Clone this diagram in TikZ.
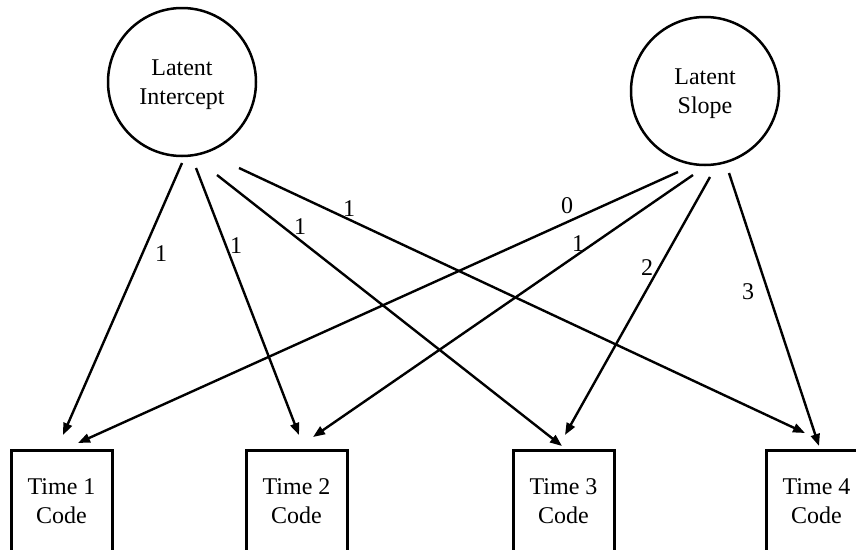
\documentclass[tikz,border=0pt]{standalone}
\usepackage{fontspec}
\setmainfont{Liberation Serif}
\usetikzlibrary{arrows.meta}
\begin{document}
\begin{tikzpicture}[x=1pt,y=-1pt,
  every node/.style={font=\fontsize{24}{28.5}\selectfont},
  latent/.style={draw,circle,line width=2.5pt,minimum size=148pt,inner sep=0pt,align=center,text depth=0pt},
  obsbox/.style={draw,rectangle,line width=3pt,minimum width=101pt,minimum height=102pt,inner sep=0pt,align=center},
  path/.style={line width=2.4pt,-{Triangle[length=12pt,width=9pt]}},
  wlab/.style={inner sep=0pt}]
\useasboundingbox (0,0) rectangle (856,549);
\clip (0,0) rectangle (856,549);
% latent factors
\node[latent] (int) at (182,82) {Latent\\Intercept};
\node[latent] (slo) at (705,91) {Latent\\Slope};
% observed
\node[obsbox] (t1) at (61.5,501) {Time 1\\Code};
\node[obsbox] (t2) at (296.5,501) {Time 2\\Code};
\node[obsbox] (t3) at (563.5,501) {Time 3\\Code};
\node[obsbox] (t4) at (816.5,501) {Time 4\\Code};
% connector ends
\coordinate (s1) at (182,163); \coordinate (e1) at (63,435);
\coordinate (s2) at (196,168); \coordinate (e2) at (299,435);
\coordinate (s3) at (217,175); \coordinate (e3) at (562,446);
\coordinate (s4) at (239,168); \coordinate (e4) at (805,433);
\coordinate (s5) at (678,172); \coordinate (e5) at (78,443);
\coordinate (s6) at (693,175); \coordinate (e6) at (313,437);
\coordinate (s7) at (710,177); \coordinate (e7) at (565,435);
\coordinate (s8) at (729,173); \coordinate (e8) at (819,446);
\draw[path] (s1) -- (e1);
\draw[path] (s2) -- (e2);
\draw[path] (s3) -- (e3);
\draw[path] (s4) -- (e4);
\draw[path] (s5) -- (e5);
\draw[path] (s6) -- (e6);
\draw[path] (s7) -- (e7);
\draw[path] (s8) -- (e8);
% loadings
\node[wlab] (l1) at (161,254) {1};
\node[wlab] (l2) at (236,246) {1};
\node[wlab] (l3) at (300,227) {1};
\node[wlab] (l4) at (349,209) {1};
\node[wlab] (l5) at (567,206) {0};
\node[wlab] (l6) at (578,244) {1};
\node[wlab] (l7) at (647,268) {2};
\node[wlab] (l8) at (748,292) {3};
\end{tikzpicture}
\end{document}
